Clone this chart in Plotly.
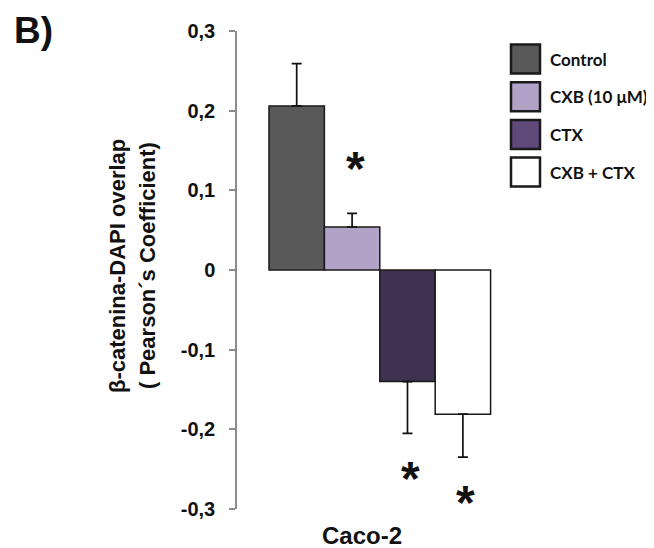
import plotly.graph_objects as go

# ---- data ----
groups = ["Control", "CXB (10 \u03bcM)", "CTX", "CXB + CTX"]
values = [0.206, 0.054, -0.140, -0.181]
errors = [0.053, 0.017, 0.065, 0.054]
bar_colors = ["#595959", "#b3a2c7", "#3f3150", "#ffffff"]
legend_colors = ["#595959", "#b3a2c7", "#5f497a", "#ffffff"]
significant = [False, True, True, True]
category = "Caco-2"
y_ticks = [-0.3, -0.2, -0.1, 0, 0.1, 0.2, 0.3]
y_ticktext = ["-0,3", "-0,2", "-0,1", "0", "0,1", "0,2", "0,3"]

# page body has an 8px margin; design in reference pixel coordinates
OFF = 8
W, H = 654 - OFF, 548 - OFF
L, R, T, B = 237 - OFF, 654 - 500, 31 - OFF, 548 - 509
PW, PH = W - L - R, H - T - B


def px(x):
    return (x - OFF - L) / PW


def py(y):
    return (H - B - (y - OFF)) / PH


AX = "Liberation Sans, Arial, sans-serif"
LEG = "Lato, Carlito, sans-serif"

fig = go.Figure()
for name, v, e, c in zip(groups, values, errors, bar_colors):
    pos = v >= 0
    fig.add_trace(go.Bar(
        x=[category], y=[v], name=name,
        marker=dict(color=c, line=dict(color="#1a1a1a", width=1.5)),
        error_y=dict(type="data", symmetric=False,
                     array=[e if pos else 0], arrayminus=[0 if pos else e],
                     color="#111111", thickness=1.7, width=5),
        showlegend=False,
    ))

n = len(groups)
bw = 0.8 / n
centers = [-0.4 + bw * (i + 0.5) for i in range(n)]

annotations = []
for i, (v, e, s) in enumerate(zip(values, errors, significant)):
    if not s:
        continue
    if v >= 0:
        ytxt = v + e + 0.062
    else:
        ytxt = v - e - 0.052
    annotations.append(dict(x=centers[i], y=ytxt, xref="x", yref="y", text="*",
                            showarrow=False, xshift=3, yshift=-4,
                            xanchor="center", yanchor="middle",
                            font=dict(family=AX, size=48, color="#111", weight="bold")))

annotations.append(dict(x=px(117), y=py(266), xref="paper", yref="paper",
                        xanchor="center", yanchor="middle",
                        text="\u03b2-catenina-DAPI overlap", textangle=-90, showarrow=False,
                        font=dict(family=AX, size=22, color="#111", weight="bold")))
annotations.append(dict(x=px(147), y=py(266), xref="paper", yref="paper",
                        xanchor="center", yanchor="middle",
                        text="( Pearson\u00b4s Coefficient)", textangle=-90, showarrow=False,
                        font=dict(family=AX, size=22, color="#111", weight="bold")))
annotations.append(dict(x=px(12), y=py(8), xref="paper", yref="paper",
                        xanchor="left", yanchor="top",
                        text="B)", showarrow=False,
                        font=dict(family=AX, size=37, color="#111", weight="bold")))
annotations.append(dict(x=px(362), y=py(548), xref="paper", yref="paper",
                        xanchor="center", yanchor="bottom", yshift=-3,
                        text=category, showarrow=False,
                        font=dict(family=AX, size=24, color="#111", weight="bold")))

shapes = []
sw = 29
for i, (name, c) in enumerate(zip(groups, legend_colors)):
    cy = 59 + i * 37.7
    shapes.append(dict(type="rect", xref="paper", yref="paper",
                       x0=px(511), x1=px(511 + sw), y0=py(cy - sw / 2), y1=py(cy + sw / 2),
                       fillcolor=c, line=dict(color="#1a1a1a", width=2.5)))
    annotations.append(dict(x=px(548), y=py(cy), xref="paper", yref="paper",
                            xanchor="left", yanchor="middle", text=name, showarrow=False,
                            font=dict(family=LEG, size=17, color="#111", weight="bold")))

fig.update_layout(
    width=W, height=H,
    margin=dict(l=L, r=R, t=T, b=B, pad=0, autoexpand=False),
    paper_bgcolor="white", plot_bgcolor="white",
    barmode="group", bargap=0.2, bargroupgap=0,
    showlegend=False,
    annotations=annotations, shapes=shapes,
    xaxis=dict(range=[-0.5155, -0.5155 + PW / 277.0], showticklabels=False,
               showline=False, showgrid=False, zeroline=False, ticks=""),
    yaxis=dict(range=[-0.3, 0.3], tickvals=y_ticks, ticktext=y_ticktext,
               showline=True, linecolor="#8c8c8c", linewidth=1.5,
               ticks="outside", ticklen=6, tickcolor="#8c8c8c", tickwidth=1.5,
               ticklabelstandoff=10,
               tickfont=dict(family=AX, size=20, color="#111", weight="bold"),
               showgrid=False, zeroline=False),
)

fig.write_html("out.html")
